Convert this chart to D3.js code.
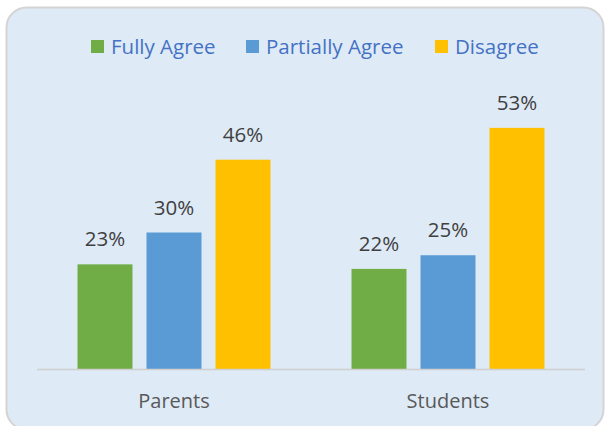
<!DOCTYPE html>
<html>
<head>
<meta charset="utf-8">
<title>Agreement chart</title>
<script src="https://cdn.jsdelivr.net/npm/d3@7"></script>
<style>
  body { margin: 0; background: #fff; }
  text { font-family: "Open Sans", "Noto Sans", sans-serif; }
</style>
</head>
<body>
<svg></svg>
<script>
const categories = ['Parents', 'Students'];
const seriesNames = ['Fully Agree', 'Partially Agree', 'Disagree'];
const seriesColors = ['#70AD47', '#5B9BD5', '#FFC000'];
const fullyAgree = [23, 22];
const partiallyAgree = [30, 25];
const disagree = [46, 53];
const seriesValues = [fullyAgree, partiallyAgree, disagree];

const width = 605, height = 426;
const svg = d3.select('svg').attr('width', width).attr('height', height);

// chart frame
svg.append('rect')
  .attr('x', 6.5).attr('y', 7.5)
  .attr('width', 597).attr('height', 422)
  .attr('rx', 20)
  .attr('fill', '#DEEAF6')
  .attr('stroke', '#D4D4D4')
  .attr('stroke-width', 2);

const plot = { left: 37, right: 585, top: 96, bottom: 369 };

const x0b = d3.scaleBand().domain(categories).range([plot.left, plot.right]);
const x1 = d3.scaleBand().domain(seriesNames)
  .range([0, 193]).paddingInner(14 / 69).paddingOuter(0);
const y = d3.scaleLinear().domain([0, 60]).range([plot.bottom, plot.top]);

const groups = svg.selectAll('.grp')
  .data(categories)
  .join('g')
  .attr('class', 'grp')
  .attr('transform', c => `translate(${x0b(c) + x0b.bandwidth() / 2 - 96.5},0)`);

groups.each(function (c, ci) {
  const g = d3.select(this);
  seriesNames.forEach((s, si) => {
    const v = seriesValues[si][ci];
    g.append('rect')
      .attr('x', x1(s))
      .attr('y', y(v))
      .attr('width', x1.bandwidth())
      .attr('height', y(0) - y(v))
      .attr('fill', seriesColors[si]);
    g.append('text')
      .attr('x', x1(s) + x1.bandwidth() / 2)
      .attr('y', y(v) - 18)
      .attr('text-anchor', 'middle')
      .attr('font-size', 20.5)
      .attr('fill', '#404040')
      .text(v + '%');
  });
});

// axis line
svg.append('line')
  .attr('x1', plot.left).attr('x2', plot.right)
  .attr('y1', plot.bottom + 0.5).attr('y2', plot.bottom + 0.5)
  .attr('stroke', '#D0D0D0').attr('stroke-width', 1.5);

// category labels
svg.selectAll('.cat')
  .data(categories)
  .join('text')
  .attr('class', 'cat')
  .attr('x', c => x0b(c) + x0b.bandwidth() / 2)
  .attr('y', 408)
  .attr('text-anchor', 'middle')
  .attr('font-size', 20)
  .attr('fill', '#595959')
  .text(c => c);

// legend
const legendX = [91, 246, 435];
const legend = svg.selectAll('.leg')
  .data(seriesNames)
  .join('g')
  .attr('class', 'leg')
  .attr('transform', (d, i) => `translate(${legendX[i]},40)`);
legend.append('rect')
  .attr('width', 13).attr('height', 13)
  .attr('fill', (d, i) => seriesColors[i]);
legend.append('text')
  .attr('x', 20).attr('y', 14)
  .attr('font-size', 20.5)
  .attr('fill', '#4472C4')
  .text(d => d);
</script>
</body>
</html>
